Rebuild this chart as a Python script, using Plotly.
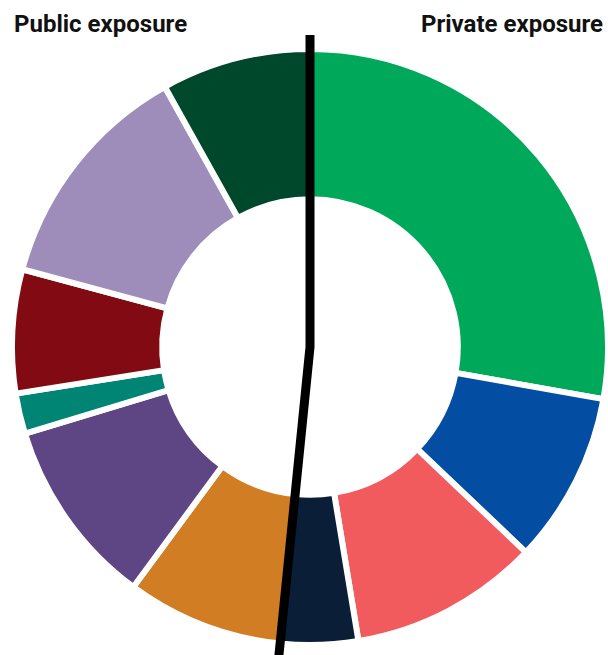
import math
import plotly.graph_objects as go

# ---- data (share of exposure, %, clockwise from 12 o'clock) ----
segments = ["Private A", "Private B", "Private C", "Private D",
            "Public A", "Public B", "Public C", "Public D", "Public E", "Public F"]
values = [27.8, 9.3, 10.3, 4.2, 8.5, 10.2, 2.2, 6.7, 12.7, 8.1]
groups = ["Private", "Private", "Private", "Private",
          "Public", "Public", "Public", "Public", "Public", "Public"]
colors = ["#00A85A", "#034EA2", "#F15B5E", "#0A1E38", "#D17D24",
          "#5E4584", "#008575", "#820A12", "#9E8DBB", "#00482B"]
header_left = "Public exposure"
header_right = "Private exposure"

W, H = 608, 655
L, R, T, B = 12, 0, 49, 10
PW, PH = W - L - R, H - T - B

def px_to_paper(px, py):
    return (px - L) / PW, 1 - (py - T) / PH

fig = go.Figure(go.Pie(
    labels=segments, values=values, sort=False, direction="clockwise",
    rotation=0, hole=0.496, textinfo="none", hoverinfo="label+value",
    marker=dict(colors=colors, line=dict(color="white", width=6)),
    showlegend=False,
))

# divider between private and public exposure, derived from the data
private_share = sum(v for v, g in zip(values, groups) if g == "Private") / sum(values)
theta = 2 * math.pi * private_share
cx, cy = L + PW / 2, T + PH / 2
top_y = 35
bottom_y = H + 5
length = (bottom_y - cy) / (-math.cos(theta))
ex, ey = cx + math.sin(theta) * length, cy - math.cos(theta) * length
p0 = px_to_paper(cx, top_y)
p1 = px_to_paper(cx, cy)
p2 = px_to_paper(ex, ey)
fig.add_shape(type="path", xref="paper", yref="paper",
              path=f"M {p0[0]},{p0[1]} L {p1[0]},{p1[1]} L {p2[0]},{p2[1]}",
              line=dict(color="black", width=9))

ax, ay = px_to_paper(12, 8)
bx, by = px_to_paper(605, 8)
font = dict(family="Roboto", size=24, color="#111111")
fig.add_annotation(text=f"<b>{header_left}</b>", xref="paper", yref="paper",
                   x=ax, y=ay, xanchor="left", yanchor="top", showarrow=False, font=font)
fig.add_annotation(text=f"<b>{header_right}</b>", xref="paper", yref="paper",
                   x=bx, y=by, xanchor="right", yanchor="top", showarrow=False, font=font)

fig.update_layout(width=W, height=H, margin=dict(l=L, r=R, t=T, b=B),
                  paper_bgcolor="white", plot_bgcolor="white")
fig.write_html("out.html")
